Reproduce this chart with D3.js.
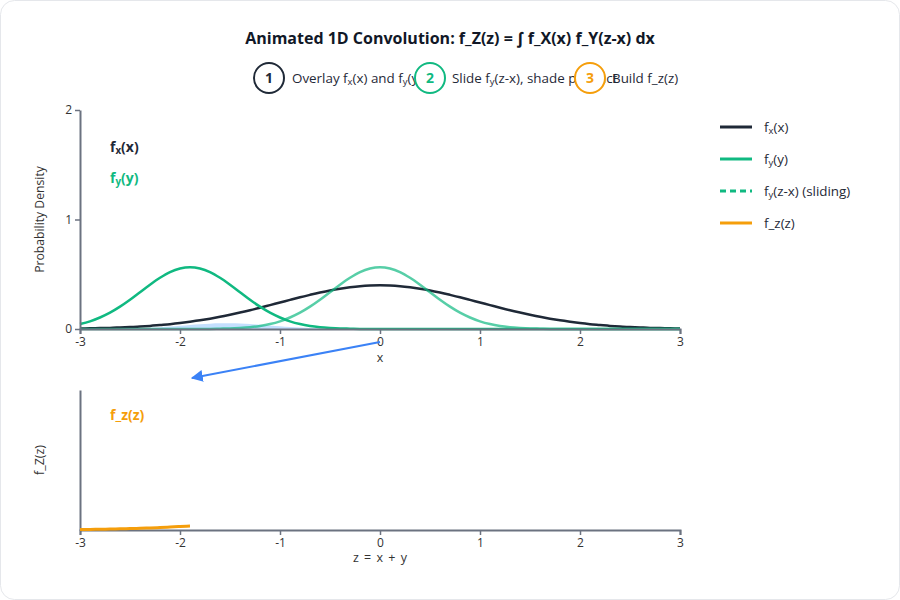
<!DOCTYPE html>
<html>
<head>
<meta charset="utf-8">
<script src="https://cdn.jsdelivr.net/npm/d3@7"></script>
<style>
  html, body { margin: 0; padding: 0; background: #fff; }
  svg { display: block; font-family: "Open Sans", "Noto Sans", sans-serif; }
</style>
</head>
<body>
<svg id="chart" width="900" height="600"></svg>
<script>
// ---------- data ----------
const gridX = [-3.0,-2.9,-2.8,-2.7,-2.6,-2.5,-2.4,-2.3,-2.2,-2.1,-2.0,-1.9,-1.8,-1.7,-1.6,-1.5,-1.4,-1.3,-1.2,-1.1,-1.0,-0.9,-0.8,-0.7,-0.6,-0.5,-0.4,-0.3,-0.2,-0.1,0.0,0.1,0.2,0.3,0.4,0.5,0.6,0.7,0.8,0.9,1.0,1.1,1.2,1.3,1.4,1.5,1.6,1.7,1.8,1.9,2.0,2.1,2.2,2.3,2.4,2.5,2.6,2.7,2.8,2.9,3.0];
const fX = [0.004,0.006,0.008,0.010,0.014,0.018,0.022,0.028,0.036,0.044,0.054,0.066,0.079,0.094,0.111,0.130,0.150,0.171,0.194,0.218,0.242,0.266,0.290,0.312,0.333,0.352,0.368,0.381,0.391,0.397,0.399,0.397,0.391,0.381,0.368,0.352,0.333,0.312,0.290,0.266,0.242,0.218,0.194,0.171,0.150,0.130,0.111,0.094,0.079,0.066,0.054,0.044,0.036,0.028,0.022,0.018,0.014,0.010,0.008,0.006,0.004];
const fY = [0,0,0,0,0,0,0,0,0,0,0,0,0.001,0.001,0.003,0.005,0.010,0.017,0.028,0.045,0.070,0.105,0.149,0.204,0.267,0.336,0.405,0.468,0.520,0.553,0.565,0.553,0.520,0.468,0.405,0.336,0.267,0.204,0.149,0.105,0.070,0.045,0.028,0.017,0.010,0.005,0.003,0.001,0.001,0,0,0,0,0,0,0,0,0,0,0,0];
const fYSliding = [0.045,0.070,0.105,0.149,0.204,0.267,0.336,0.405,0.468,0.520,0.553,0.565,0.553,0.520,0.468,0.405,0.336,0.267,0.204,0.149,0.105,0.070,0.045,0.028,0.017,0.010,0.005,0.003,0.001,0.001,0,0,0,0,0,0,0,0,0,0,0,0,0,0,0,0,0,0,0,0,0,0,0,0,0,0,0,0,0,0,0];
const product = [0.0002,0.0004,0.0008,0.0015,0.0028,0.0047,0.0075,0.0115,0.0166,0.0229,0.0299,0.0371,0.0437,0.0489,0.0519,0.0524,0.0503,0.0458,0.0396,0.0325,0.0254,0.0186,0.0130,0.0087,0.0057,0.0033,0.0018,0.0011,0.0004,0.0004,0,0,0,0,0,0,0,0,0,0,0,0,0,0,0,0,0,0,0,0,0,0,0,0,0,0,0,0,0,0,0];
const zBuilt = [-3.0,-2.9,-2.8,-2.7,-2.6,-2.5,-2.4,-2.3,-2.2,-2.1,-2.0,-1.9];
const fZ = [0.0066,0.0084,0.0105,0.0131,0.0163,0.0200,0.0244,0.0295,0.0353,0.0420,0.0495,0.0580];
const currentZ = -1.9;
const xTicks = [-3,-2,-1,0,1,2,3];
const yTicks = [0,1,2];

const title = "Animated 1D Convolution: f_Z(z) = \u222B f_X(x) f_Y(z-x) dx";

// ---------- colours ----------
const cDark = "#1f2937", cGreen = "#10b981", cOrange = "#f59e0b", cBlue = "#3b82f6", cAxis = "#6b7280";

const svg = d3.select("#chart");

// card
svg.append("rect").attr("x",0.5).attr("y",0.5).attr("width",899).attr("height",599)
  .attr("rx",14).attr("fill","#fff").attr("stroke","#e5e7eb");

// title
svg.append("text").attr("x",450).attr("y",44).attr("text-anchor","middle")
  .attr("font-size",16).attr("font-weight",700).attr("fill","#111827").text(title);

// helper: text with subscripts; parts = [[text, isSub], ...]
function richText(sel, parts) {
  parts.forEach(([t, sub]) => {
    const ts = sel.append("tspan").text(t);
    if (sub) ts.attr("font-size","0.7em").attr("baseline-shift","-22%");
  });
  return sel;
}

// steps
const steps = [
  {cx:269, color:cDark, n:"1", tx:292, parts:[["Overlay f",0],["x",1],["(x) and f",0],["y",1],["(y)",0]]},
  {cx:430, color:cGreen, n:"2", tx:452, parts:[["Slide f",0],["y",1],["(z-x), shade product",0]]},
  {cx:590, color:cOrange, n:"3", tx:612, parts:[["Build f_z(z)",0]]}
];
steps.forEach(s => {
  const g = svg.append("g");
  g.append("circle").attr("cx",s.cx).attr("cy",78).attr("r",15)
    .attr("fill","#fff").attr("stroke",s.color).attr("stroke-width",2);
  g.append("text").attr("x",s.cx).attr("y",83).attr("text-anchor","middle")
    .attr("font-size",14).attr("font-weight",700).attr("fill",s.color).text(s.n);
  richText(g.append("text").attr("x",s.tx).attr("y",83).attr("font-size",13.4).attr("fill","#1f2937"), s.parts);
});

// ---------- scales ----------
const x = d3.scaleLinear().domain([-3,3]).range([80,680]);
const yTop = d3.scaleLinear().domain([0,2]).range([329,110]);
const yBot = d3.scaleLinear().domain([0,2]).range([530,390]);

// ---------- top panel ----------
const topG = svg.append("g");

const area = d3.area().x((d,i)=>x(gridX[i])).y0(yTop(0)).y1(d=>yTop(d)).curve(d3.curveMonotoneX);
topG.append("path").datum(product).attr("d",area).attr("fill","#93c5fd").attr("opacity",0.55);

const lineTop = d3.line().x((d,i)=>x(gridX[i])).y(d=>yTop(d)).curve(d3.curveMonotoneX);
topG.append("path").datum(fX).attr("d",lineTop).attr("fill","none").attr("stroke",cDark).attr("stroke-width",2.5);
topG.append("path").datum(fY).attr("d",lineTop).attr("fill","none").attr("stroke",cGreen).attr("stroke-width",2.5).attr("opacity",0.7);
topG.append("path").datum(fYSliding).attr("d",lineTop).attr("fill","none").attr("stroke",cGreen).attr("stroke-width",2.5);

const fmt = d => String(d);
function styleAxis(g) {
  g.selectAll(".domain").attr("stroke",cAxis).attr("stroke-width",2);
  g.selectAll(".tick line").attr("stroke",cAxis).attr("stroke-width",1.5);
  g.selectAll(".tick text").attr("fill","#333").attr("font-size",12).attr("font-family","'Open Sans', sans-serif");
}
const xAxTop = topG.append("g").attr("transform",`translate(0,${yTop(0)})`)
  .call(d3.axisBottom(x).tickValues(xTicks).tickSize(5).tickSizeOuter(5).tickFormat(fmt));
styleAxis(xAxTop);
const yAxTop = topG.append("g").attr("transform",`translate(${x(-3)},0)`)
  .call(d3.axisLeft(yTop).tickValues(yTicks).tickSize(5).tickSizeOuter(0).tickFormat(fmt));
styleAxis(yAxTop);

topG.append("text").attr("x",x(0)).attr("y",362).attr("text-anchor","middle").attr("font-size",12.5).attr("fill","#333").text("x");
topG.append("text").attr("transform",`translate(44,${(yTop(0)+yTop(2))/2}) rotate(-90)`).attr("text-anchor","middle")
  .attr("font-size",12.2).attr("fill","#333").text("Probability Density");

richText(topG.append("text").attr("x",110).attr("y",152).attr("font-size",14).attr("font-weight",700).attr("fill",cDark), [["f",0],["x",1],["(x)",0]]);
richText(topG.append("text").attr("x",110).attr("y",183).attr("font-size",14).attr("font-weight",700).attr("fill",cGreen), [["f",0],["y",1],["(y)",0]]);

// ---------- bottom panel ----------
const botG = svg.append("g");
const lineBot = d3.line().x((d,i)=>x(zBuilt[i])).y(d=>yBot(d)).curve(d3.curveMonotoneX);
const xAxBot = botG.append("g").attr("transform",`translate(0,${yBot(0)})`)
  .call(d3.axisBottom(x).tickValues(xTicks).tickSize(5).tickSizeOuter(5).tickFormat(fmt));
styleAxis(xAxBot);
const yAxBot = botG.append("g").attr("transform",`translate(${x(-3)},0)`)
  .call(d3.axisLeft(yBot).tickValues([]).tickSize(0).tickSizeOuter(0));
styleAxis(yAxBot);
botG.append("path").datum(fZ).attr("d",lineBot).attr("fill","none").attr("stroke",cOrange).attr("stroke-width",3);

botG.append("text").attr("x",x(0)).attr("y",562).attr("text-anchor","middle").attr("font-size",12.5).attr("fill","#333")
  .attr("xml:space","preserve").text("z = x + y").attr("word-spacing",2);
botG.append("text").attr("transform",`translate(44,${(yBot(0)+yBot(2))/2}) rotate(-90)`).attr("text-anchor","middle")
  .attr("font-size",12.5).attr("fill","#333").text("f_Z(z)");
botG.append("text").attr("x",110).attr("y",420).attr("font-size",14).attr("font-weight",700).attr("fill",cOrange).text("f_z(z)");

// ---------- arrow ----------
const defs = svg.append("defs");
defs.append("marker").attr("id","arrowHead").attr("viewBox","0 0 10 10").attr("refX",9).attr("refY",5)
  .attr("markerWidth",6).attr("markerHeight",6).attr("orient","auto")
  .append("path").attr("d","M0,0 L10,5 L0,10 Z").attr("fill",cBlue);
svg.append("line").attr("x1",x(0)).attr("y1",342).attr("x2",x(currentZ)+2).attr("y2",378)
  .attr("stroke",cBlue).attr("stroke-width",2).attr("marker-end","url(#arrowHead)");

// ---------- legend ----------
const legendItems = [
  {color:cDark, dash:null, parts:[["f",0],["x",1],["(x)",0]]},
  {color:cGreen, dash:null, parts:[["f",0],["y",1],["(y)",0]]},
  {color:cGreen, dash:"6,4", parts:[["f",0],["y",1],["(z-x) (sliding)",0]]},
  {color:cOrange, dash:null, parts:[["f_z(z)",0]]}
];
const leg = svg.append("g");
legendItems.forEach((it,i) => {
  const yy = 127 + i*32;
  leg.append("line").attr("x1",720).attr("x2",752).attr("y1",yy).attr("y2",yy)
    .attr("stroke",it.color).attr("stroke-width",3).attr("stroke-dasharray",it.dash);
  richText(leg.append("text").attr("x",764).attr("y",yy+4.5).attr("font-size",13.4).attr("fill","#1f2937"), it.parts);
});
</script>
</body>
</html>
